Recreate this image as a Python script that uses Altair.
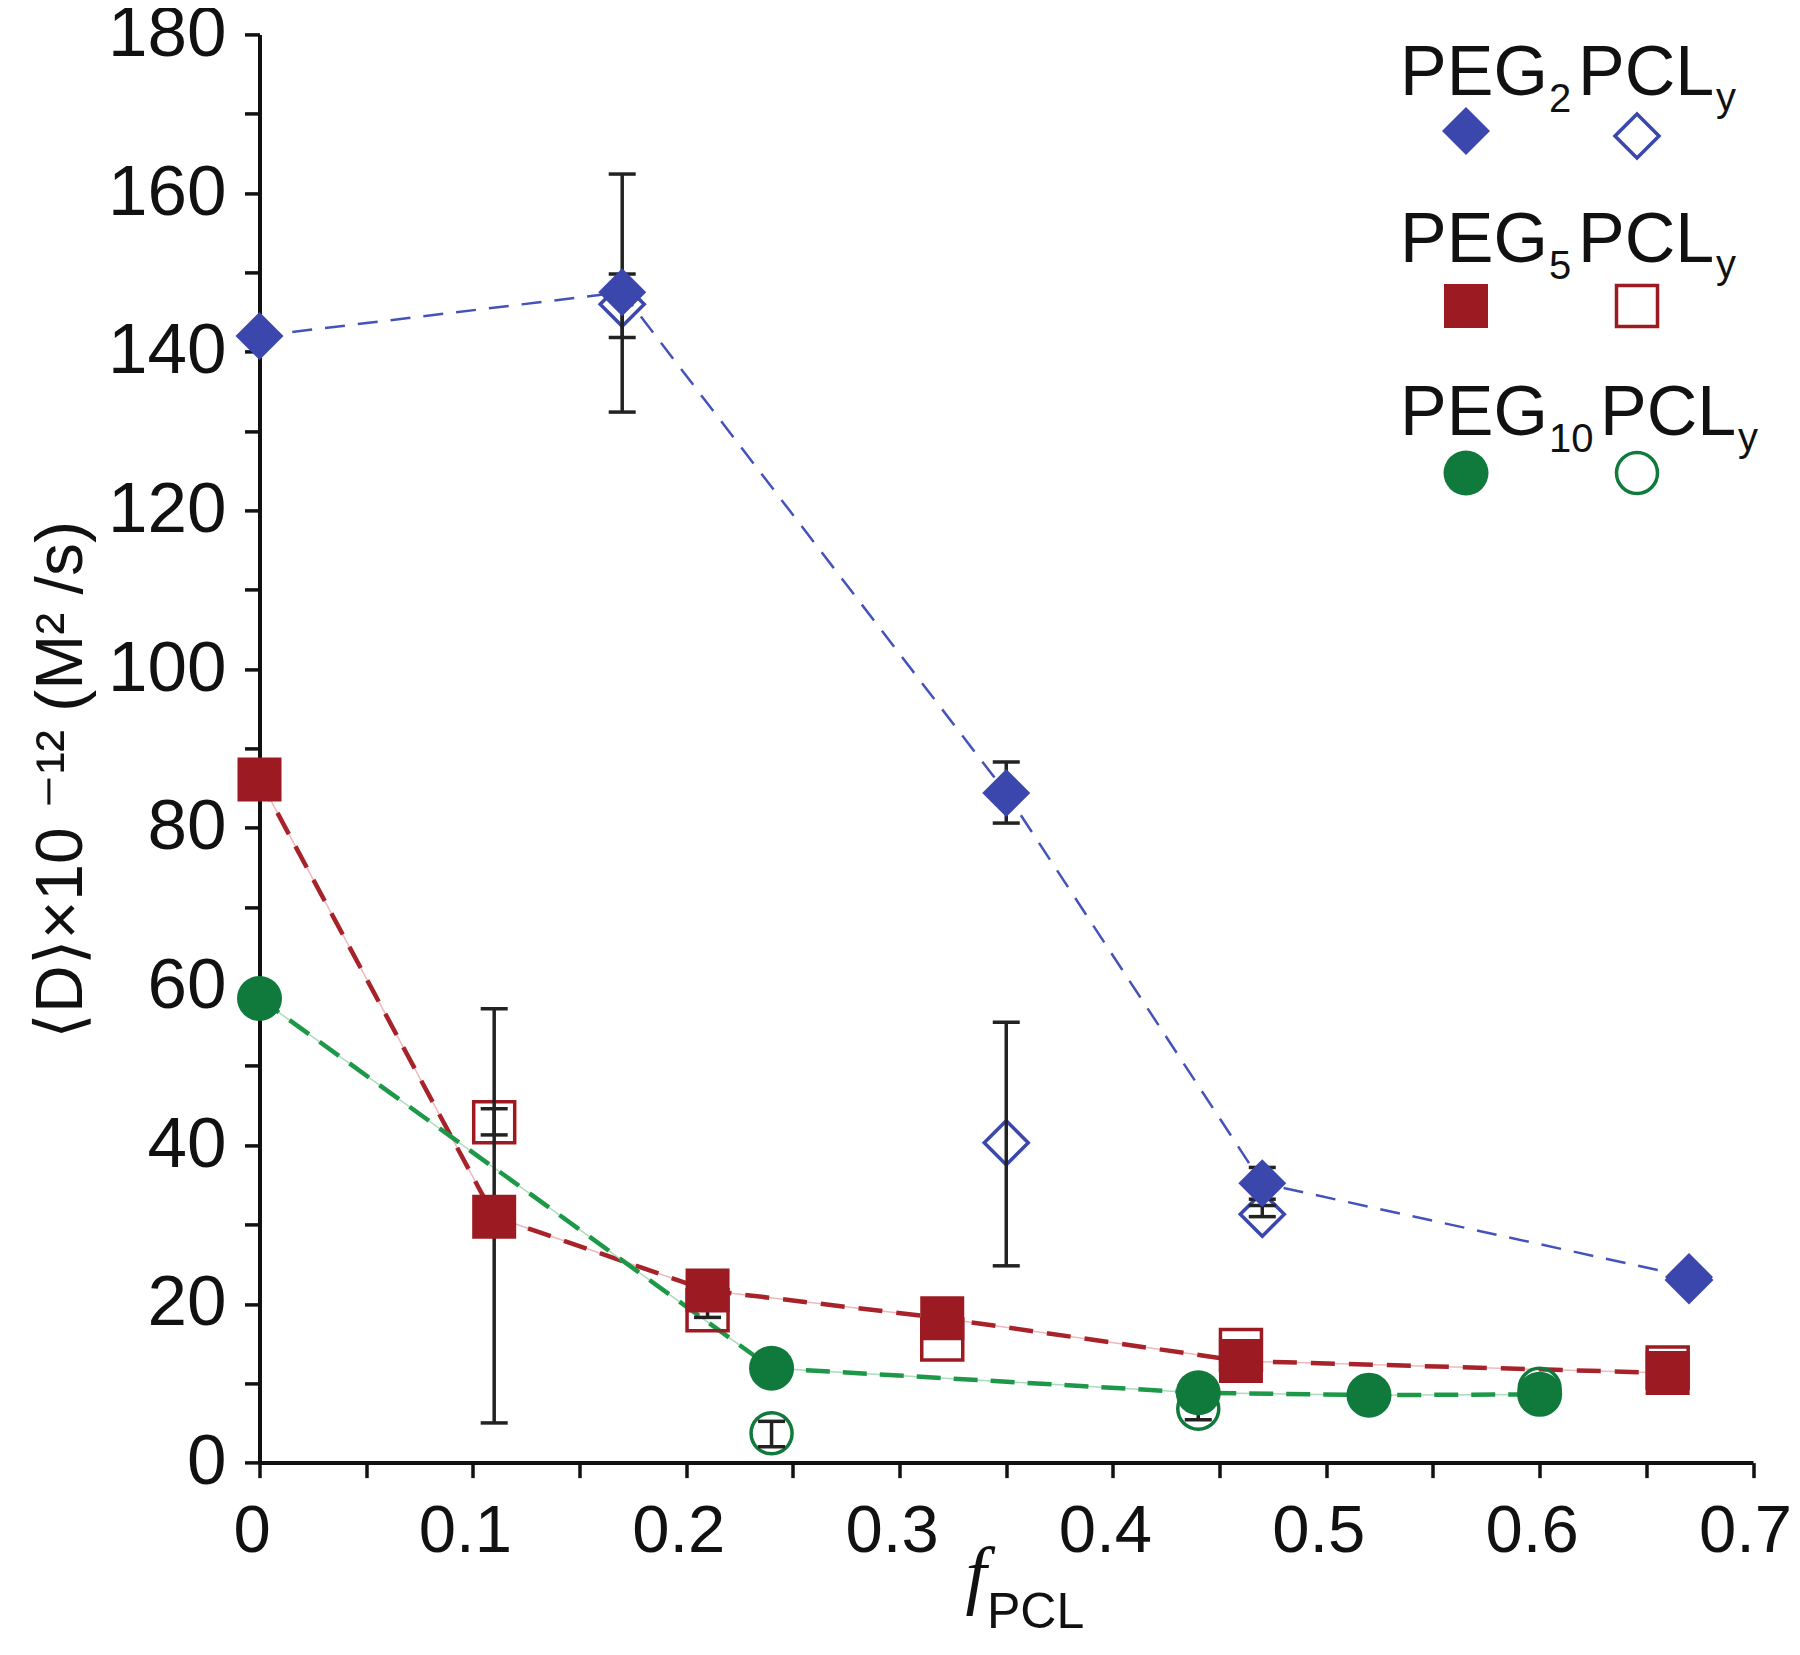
import altair as alt
import pandas as pd

# ---------------- data ----------------
series_names = ["PEG2PCLy", "PEG5PCLy", "PEG10PCLy"]

peg2_fill_x = [0.0, 0.17, 0.35, 0.47, 0.67]
peg2_fill_y = [142.0, 147.5, 84.4, 35.2, 23.4]
peg2_open_x = [0.17, 0.35, 0.47, 0.67]
peg2_open_y = [146.0, 40.3, 31.3, 23.0]

peg5_fill_x = [0.0, 0.11, 0.21, 0.32, 0.46, 0.66]
peg5_fill_y = [86.1, 31.0, 21.7, 18.2, 12.8, 11.3]
peg5_open_x = [0.11, 0.21, 0.32, 0.46, 0.66]
peg5_open_y = [42.9, 19.2, 15.5, 14.2, 12.0]

peg10_fill_x = [0.0, 0.24, 0.44, 0.52, 0.60]
peg10_fill_y = [58.5, 11.9, 8.8, 8.5, 8.6]
peg10_open_x = [0.24, 0.44, 0.60]
peg10_open_y = [3.7, 6.8, 9.3]

err_x = [0.17, 0.17, 0.35, 0.35, 0.47, 0.47, 0.11, 0.11, 0.21, 0.24, 0.44]
err_lo = [132.4, 141.8, 80.6, 24.8, 33.2, 31.0, 5.0, 41.3, 18.3, 2.0, 5.4]
err_hi = [162.4, 149.8, 88.3, 55.5, 37.2, 32.4, 57.2, 44.6, 20.3, 5.2, 7.6]

x_tick_values = [round(i * 0.05, 2) for i in range(15)]
y_tick_values = list(range(0, 181, 10))

legend_main = ["PEG", "PEG", "PEG"]
legend_sub = ["2", "5", "10"]
legend_tail = ["PCL", "PCL", "PCL"]
legend_tail_sub = ["y", "y", "y"]

y_title = "\u27e8D\u27e9\u00d710 \u207b\u00b9\u00b2 (M\u00b2 /s)"
x_title_main = "f"
x_title_sub = "PCL"

# ---------------- styles ----------------
marker_colors = ["#3b47ac", "#9c1b22", "#0f7a3b"]
line_colors = ["#4453b9", "#a8222a", "#1d9849"]
under_colors = [None, "#eeb9bb", "#abdcba"]
dashes = [[20, 13], [24, 14], [24, 13]]
line_widths = [2.5, 4.5, 4.5]
shapes = ["diamond", "square", "circle"]
fill_sizes = [2300, 1936, 2025]
open_sizes = [1936, 1681, 1681]

FONT = "Liberation Sans"
INK = "#111111"

fill_x = [peg2_fill_x, peg5_fill_x, peg10_fill_x]
fill_y = [peg2_fill_y, peg5_fill_y, peg10_fill_y]
open_x = [peg2_open_x, peg5_open_x, peg10_open_x]
open_y = [peg2_open_y, peg5_open_y, peg10_open_y]

x_axis = alt.Axis(
    values=x_tick_values,
    labelExpr="round(datum.value * 20) % 2 == 0 ? format(datum.value, '.1~f') : ''",
    title=None, grid=False,
    domainColor=INK, domainWidth=4, tickColor=INK, tickWidth=3.5, tickSize=15,
    labelFontSize=67, labelFont=FONT, labelColor=INK, labelPadding=21, labelOffset=-8,
    labelOverlap=False, labelFlush=False,
)
y_axis = alt.Axis(
    values=y_tick_values,
    labelExpr="datum.value % 20 == 0 ? datum.label : ''",
    title=None, grid=False,
    domainColor=INK, domainWidth=4, tickColor=INK, tickWidth=3.5, tickSize=15,
    labelFontSize=71, labelFont=FONT, labelColor=INK, labelPadding=18.5,
    labelOverlap=False, labelFlush=False,
)
x_scale = alt.Scale(domain=[0, 0.7], nice=False, zero=False)
y_scale = alt.Scale(domain=[0, 180], nice=False, zero=False)


def xe():
    return alt.X("x:Q", scale=x_scale, axis=x_axis)


def ye(field="y"):
    return alt.Y(f"{field}:Q", scale=y_scale, axis=y_axis)


layers = []

# connecting lines (through the filled points)
for i, s in enumerate(series_names):
    df = pd.DataFrame({"x": fill_x[i], "y": fill_y[i]})
    base = alt.Chart(df)
    if under_colors[i]:
        layers.append(base.mark_line(color=under_colors[i], strokeWidth=1.5).encode(x=xe(), y=ye()))
    layers.append(
        base.mark_line(color=line_colors[i], strokeWidth=line_widths[i], strokeDash=dashes[i]).encode(x=xe(), y=ye())
    )

# open markers
for i, s in enumerate(series_names):
    df = pd.DataFrame({"x": open_x[i], "y": open_y[i]})
    layers.append(
        alt.Chart(df).mark_point(shape=shapes[i], filled=False, size=open_sizes[i], stroke=marker_colors[i],
                                 strokeWidth=3.5, opacity=1).encode(x=xe(), y=ye())
    )

# error bars
err_df = pd.DataFrame({"x": err_x, "lo": err_lo, "hi": err_hi})
eb = alt.Chart(err_df)
layers.append(eb.mark_rule(color="#222222", strokeWidth=3.5).encode(x=xe(), y=ye("lo"), y2="hi:Q"))
layers.append(eb.mark_tick(orient="horizontal", size=27, thickness=3.5, color="#222222", opacity=1).encode(x=xe(), y=ye("lo")))
layers.append(eb.mark_tick(orient="horizontal", size=27, thickness=3.5, color="#222222", opacity=1).encode(x=xe(), y=ye("hi")))

# filled markers
for i, s in enumerate(series_names):
    df = pd.DataFrame({"x": fill_x[i], "y": fill_y[i]})
    layers.append(
        alt.Chart(df).mark_point(shape=shapes[i], filled=True, size=fill_sizes[i], color=marker_colors[i],
                                 opacity=1).encode(x=xe(), y=ye())
    )

# ---------------- custom legend ----------------
one = pd.DataFrame({"a": [0]})
row_base = [60.6, 227.6, 400.6]
row_marker = [96.6, 271.6, 438.6]
sub_x = [1289.5, 1289.5, 1289.5]
tail_x = [1318.5, 1318.5, 1340.5]
tail_sub_x = [1456.5, 1456.5, 1478.5]


def txt(text, x, y, size, align="left", **kw):
    return alt.Chart(one).mark_text(text=text, align=align, baseline="alphabetic", fontSize=size,
                                    font=kw.pop("font", FONT), color=INK, **kw).encode(
        x=alt.value(x), y=alt.value(y))


for i in range(3):
    layers.append(txt(legend_main[i], 1140.5, row_base[i], 70))
    layers.append(txt(legend_sub[i], sub_x[i], row_base[i] + 17, 40))
    layers.append(txt(legend_tail[i], tail_x[i], row_base[i], 70))
    layers.append(txt(legend_tail_sub[i], tail_sub_x[i], row_base[i] + 16, 40))
    layers.append(
        alt.Chart(one).mark_point(shape=shapes[i], filled=True, size=fill_sizes[i], color=marker_colors[i],
                                  opacity=1).encode(x=alt.value(1206.5), y=alt.value(row_marker[i]))
    )
    layers.append(
        alt.Chart(one).mark_point(shape=shapes[i], filled=False, size=open_sizes[i], stroke=marker_colors[i],
                                  strokeWidth=3.5, opacity=1).encode(
            x=alt.value(1377.5), y=alt.value(row_marker[i] + (5 if i == 0 else 0)))
    )

# axis titles
layers.append(txt(y_title, -177.5, 745.6, 66, align="center", angle=270))
layers.append(txt(x_title_main, 716.5, 1565.1, 76, align="center", font="Liberation Serif", fontStyle="italic"))
layers.append(txt(x_title_sub, 727.5, 1593.6, 50))

chart = alt.layer(*layers).properties(
    width=1493.5,
    height=1428.2,
    autosize=alt.AutoSizeParams(type="none"),
    padding={"left": 251.5, "top": 26.4, "right": 39, "bottom": 176.4},
).configure_view(stroke=None)

chart.save("out.html", embed_options={"renderer": "svg", "actions": False})
